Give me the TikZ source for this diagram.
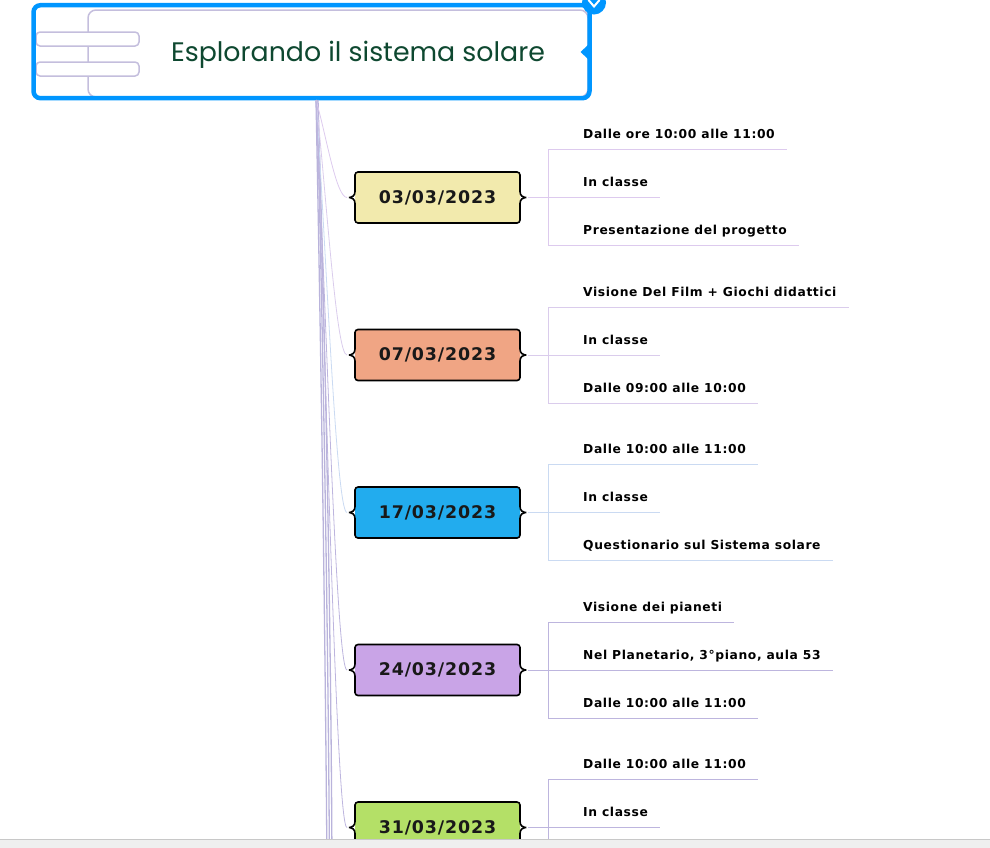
\documentclass[tikz,border=0pt]{standalone}
\usepackage{fontspec}
\setmainfont{DejaVu Sans}
\newfontfamily\datefont[LetterSpace=5]{DejaVu Sans}
\newfontfamily\leaffont[LetterSpace=5]{DejaVu Sans}
\newfontfamily\titlefont{Poppins}
\usetikzlibrary{calc, positioning}

\definecolor{rootblue}{RGB}{0,150,255}
\definecolor{decor}{RGB}{196,190,221}
\definecolor{titlegreen}{RGB}{14,72,48}
\definecolor{trunk}{RGB}{185,179,219}
\definecolor{dayA}{RGB}{242,234,173}
\definecolor{dayB}{RGB}{240,165,132}
\definecolor{dayC}{RGB}{34,172,238}
\definecolor{dayD}{RGB}{201,164,231}
\definecolor{dayE}{RGB}{180,224,103}
\definecolor{twigA}{RGB}{221,202,238}
\definecolor{twigB}{RGB}{218,204,236}
\definecolor{twigC}{RGB}{202,218,242}
\definecolor{twigD}{RGB}{189,181,222}
\definecolor{barfill}{RGB}{239,239,239}
\definecolor{barline}{RGB}{200,200,200}

% brace-shaped frame round a date node
\newcommand{\braceframe}[1]{%
  \draw[line width=1.6pt, rounded corners=3pt]
    (#1.north) -- (#1.north east) -- ($(#1.east)+(0,9pt)$)
    .. controls ($(#1.east)+(0,2pt)$) and ($(#1.east)+(3pt,0)$) .. ($(#1.east)+(8pt,0)$)
    .. controls ($(#1.east)+(3pt,0)$) and ($(#1.east)+(0,-2pt)$) .. ($(#1.east)+(0,-9pt)$)
    -- (#1.south east) -- (#1.south west) -- ($(#1.west)+(0,-9pt)$)
    .. controls ($(#1.west)+(0,-2pt)$) and ($(#1.west)+(-3pt,0)$) .. ($(#1.west)+(-8pt,0)$)
    .. controls ($(#1.west)+(-3pt,0)$) and ($(#1.west)+(0,2pt)$) .. ($(#1.west)+(0,9pt)$)
    -- (#1.north west) -- cycle;}

\begin{document}
\begin{tikzpicture}[
  x=1pt, y=-1pt,
  rootbox/.style={rectangle, draw=rootblue, line width=4.5pt, rounded corners=7pt,
    minimum width=556pt, minimum height=93pt, inner sep=0pt},
  title/.style={text=titlegreen, font={\titlefont\fontsize{26.8pt}{32pt}\selectfont}},
  day/.style={rectangle, fill=#1, rounded corners=3pt, minimum width=165pt,
    minimum height=51pt, inner sep=0pt, outer sep=0pt, text=black!90,
    font={\datefont\bfseries\fontsize{17.4pt}{20pt}\selectfont}},
  leaf/.style={anchor=south west, inner xsep=12pt, inner ysep=8pt, text depth=2.5pt,
    text height=8pt, text=black,
    font={\leaffont\bfseries\fontsize{12.3pt}{14pt}\selectfont}},
  twig/.style={draw=#1, line width=0.9pt},
  branch/.style={draw=#1, line width=0.8pt},
  stemline/.style={draw=trunk, line width=1.3pt}
]
\useasboundingbox (0,0) rectangle (990,847);

% root
\draw[decor, line width=1.5pt, rounded corners=8pt] (88,10) rectangle (588,97);
\draw[decor, line width=1.5pt, fill=white, rounded corners=4pt] (36,32) rectangle (139,46);
\draw[decor, line width=1.5pt, fill=white, rounded corners=4pt] (36,62) rectangle (139,76);
\node[rootbox] (root) at (311.5,51.7) {};
\node[title, anchor=base] (title) at (358,61) {Esplorando il sistema solare};
\fill[rootblue] (588,45) -- (580.5,52) -- (588,59) -- cycle;
\fill[rootblue] (594,2.5) circle (12pt);
\draw[white, line width=2pt] (588.5,0) -- (594,6.5) -- (599.5,0);

\coordinate (stem) at (316,100);

% dates
\node[day=dayA] (d1) at (437.5,197.5) {03/03/2023};
\node[day=dayB, below=106.5pt of d1] (d2) {07/03/2023};
\node[day=dayC, below=106.5pt of d2] (d3) {17/03/2023};
\node[day=dayD, below=106.5pt of d3] (d4) {24/03/2023};
\node[day=dayE, below=106.5pt of d4] (d5) {31/03/2023};

% trunk
\coordinate (endA) at (327,870);
\coordinate (endB) at (329.5,870);
\coordinate (endC) at (332,870);
\draw[stemline] (stem) .. controls (320,300) and (325,600) .. (endA);
\draw[stemline] ([xshift=1pt]stem) .. controls (322,300) and (328,600) .. (endB);
\draw[stemline] ([xshift=2pt]stem) .. controls (324,300) and (331,600) .. (endC);
\draw[branch=twigA] (stem) .. controls (326,134) and (336,197.5) .. ([xshift=-8pt]d1.west);
\draw[branch=twigB] (stem) .. controls (326,189) and (336,355.5) .. ([xshift=-8pt]d2.west);
\draw[branch=twigC] (stem) .. controls (326,244.5) and (336,513) .. ([xshift=-8pt]d3.west);
\draw[branch=twigD] (stem) .. controls (326,299.7) and (336,670.5) .. ([xshift=-8pt]d4.west);
\draw[branch=twigD] (stem) .. controls (326,355) and (336,828.5) .. ([xshift=-8pt]d5.west);

\braceframe{d1}
\braceframe{d2}
\braceframe{d3}
\braceframe{d4}
\braceframe{d5}

% 03/03
\node[leaf] (l11) at ([xshift=51pt, yshift=48pt]d1.east) {Dalle ore 10:00 alle 11:00};
\node[leaf] (l12) at ([xshift=51pt]d1.east) {In classe};
\node[leaf] (l13) at ([xshift=51pt, yshift=-48pt]d1.east) {Presentazione del progetto};
\coordinate (k1) at ([xshift=28pt]d1.east);
\draw[twig=twigA] ([xshift=8pt]d1.east) -- (l12.south east);
\draw[twig=twigA] (k1 |- l11.south) -- (l11.south east);
\draw[twig=twigA] (k1 |- l13.south) -- (l13.south east);
\draw[twig=twigA] (k1 |- l11.south) -- (k1 |- l13.south);

% 07/03
\node[leaf] (l21) at ([xshift=51pt, yshift=48pt]d2.east) {Visione Del Film + Giochi didattici};
\node[leaf] (l22) at ([xshift=51pt]d2.east) {In classe};
\node[leaf] (l23) at ([xshift=51pt, yshift=-48pt]d2.east) {Dalle 09:00 alle 10:00};
\coordinate (k2) at ([xshift=28pt]d2.east);
\draw[twig=twigB] ([xshift=8pt]d2.east) -- (l22.south east);
\draw[twig=twigB] (k2 |- l21.south) -- (l21.south east);
\draw[twig=twigB] (k2 |- l23.south) -- (l23.south east);
\draw[twig=twigB] (k2 |- l21.south) -- (k2 |- l23.south);

% 17/03
\node[leaf] (l31) at ([xshift=51pt, yshift=48pt]d3.east) {Dalle 10:00 alle 11:00};
\node[leaf] (l32) at ([xshift=51pt]d3.east) {In classe};
\node[leaf] (l33) at ([xshift=51pt, yshift=-48pt]d3.east) {Questionario sul Sistema solare};
\coordinate (k3) at ([xshift=28pt]d3.east);
\draw[twig=twigC] ([xshift=8pt]d3.east) -- (l32.south east);
\draw[twig=twigC] (k3 |- l31.south) -- (l31.south east);
\draw[twig=twigC] (k3 |- l33.south) -- (l33.south east);
\draw[twig=twigC] (k3 |- l31.south) -- (k3 |- l33.south);

% 24/03
\node[leaf] (l41) at ([xshift=51pt, yshift=48pt]d4.east) {Visione dei pianeti};
\node[leaf] (l42) at ([xshift=51pt]d4.east) {Nel Planetario, 3°piano, aula 53};
\node[leaf] (l43) at ([xshift=51pt, yshift=-48pt]d4.east) {Dalle 10:00 alle 11:00};
\coordinate (k4) at ([xshift=28pt]d4.east);
\draw[twig=twigD] ([xshift=8pt]d4.east) -- (l42.south east);
\draw[twig=twigD] (k4 |- l41.south) -- (l41.south east);
\draw[twig=twigD] (k4 |- l43.south) -- (l43.south east);
\draw[twig=twigD] (k4 |- l41.south) -- (k4 |- l43.south);

% 31/03
\node[leaf] (l51) at ([xshift=51pt, yshift=48pt]d5.east) {Dalle 10:00 alle 11:00};
\node[leaf] (l52) at ([xshift=51pt]d5.east) {In classe};
\coordinate (k5) at ([xshift=28pt]d5.east);
\coordinate (k5end) at (548,870);
\draw[twig=twigD] ([xshift=8pt]d5.east) -- (l52.south east);
\draw[twig=twigD] (k5 |- l51.south) -- (l51.south east);
\draw[twig=twigD] (k5 |- l51.south) -- (k5end);

% window bar
\fill[barfill] (-5,839) rectangle (995,880);
\draw[barline, line width=1pt] (-5,839) -- (995,839);
\end{tikzpicture}
\end{document}
